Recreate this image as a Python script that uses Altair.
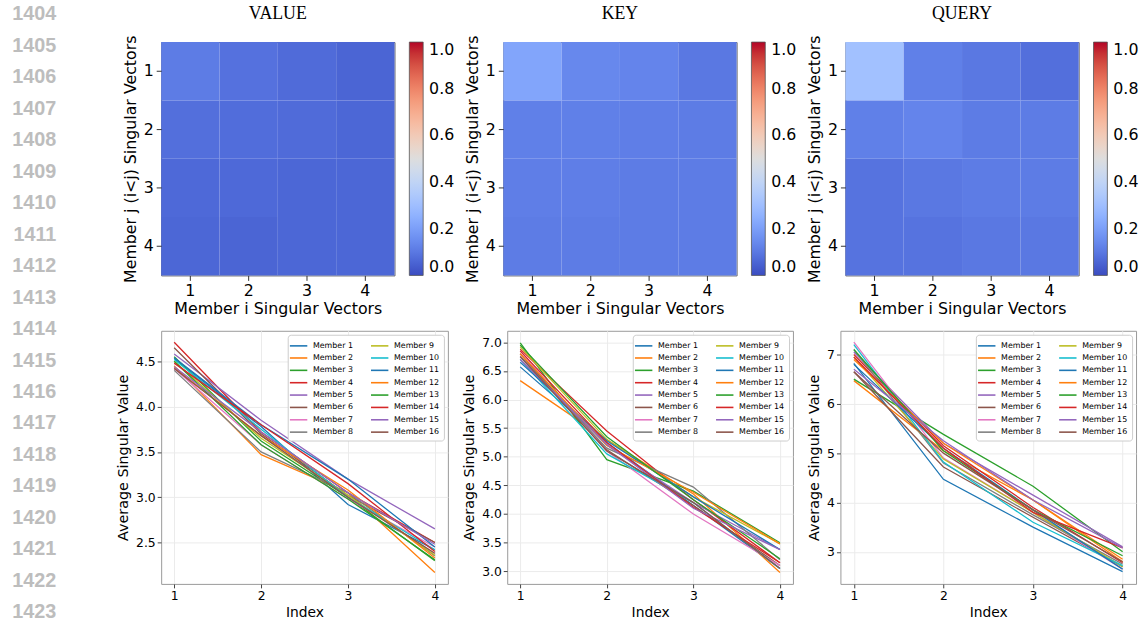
import altair as alt
import pandas as pd

# ---------------- data ----------------
line_numbers = list(range(1404, 1424))

heat_titles = ["VALUE", "KEY", "QUERY"]
vec_index = [1, 2, 3, 4]
# rows = member j vector (1..4), cols = member i vector (1..4)
value_sim = [
    [0.11, 0.085, 0.07, 0.055],
    [0.08, 0.075, 0.07, 0.06],
    [0.065, 0.065, 0.06, 0.06],
    [0.06, 0.055, 0.06, 0.06],
]
key_sim = [
    [0.22, 0.14, 0.13, 0.10],
    [0.12, 0.12, 0.115, 0.11],
    [0.115, 0.115, 0.11, 0.11],
    [0.11, 0.11, 0.11, 0.11],
]
query_sim = [
    [0.31, 0.12, 0.10, 0.08],
    [0.12, 0.13, 0.11, 0.11],
    [0.09, 0.10, 0.11, 0.11],
    [0.09, 0.09, 0.10, 0.10],
]
cbar_ticks = [0.0, 0.2, 0.4, 0.6, 0.8, 1.0]

members = [f"Member {k}" for k in range(1, 17)]
sv_index = [1, 2, 3, 4]
value_sv = [
    [4.53, 3.78, 2.92, 2.42],
    [4.45, 3.47, 3.05, 2.17],
    [4.55, 3.62, 3.00, 2.30],
    [4.71, 3.72, 3.05, 2.50],
    [4.58, 3.85, 3.20, 2.65],
    [4.65, 3.70, 3.02, 2.50],
    [4.42, 3.58, 2.98, 2.45],
    [4.40, 3.50, 3.05, 2.35],
    [4.50, 3.65, 3.02, 2.36],
    [4.52, 3.75, 3.00, 2.42],
    [4.54, 3.80, 3.20, 2.45],
    [4.43, 3.68, 3.08, 2.33],
    [4.50, 3.58, 2.98, 2.31],
    [4.48, 3.80, 3.15, 2.40],
    [4.44, 3.72, 3.05, 2.48],
    [4.42, 3.68, 3.00, 2.38],
]
key_sv = [
    [6.57, 5.25, 4.15, 3.05],
    [6.33, 5.30, 4.35, 2.98],
    [6.99, 4.95, 4.40, 3.50],
    [6.88, 5.45, 4.25, 3.15],
    [6.75, 5.20, 4.20, 3.38],
    [6.80, 5.12, 4.15, 3.10],
    [6.85, 5.10, 4.00, 3.10],
    [6.75, 5.15, 4.47, 3.20],
    [6.92, 5.30, 4.30, 3.48],
    [6.70, 5.05, 4.20, 3.05],
    [6.65, 5.28, 4.30, 3.38],
    [6.80, 5.20, 4.38, 3.48],
    [6.95, 5.35, 4.25, 3.22],
    [6.85, 5.25, 4.12, 3.15],
    [6.70, 5.22, 4.10, 3.38],
    [6.75, 5.10, 4.20, 3.05],
]
query_sv = [
    [6.82, 4.47, 3.50, 2.60],
    [6.47, 5.05, 4.05, 2.85],
    [6.50, 5.38, 4.33, 3.00],
    [7.00, 5.15, 3.90, 2.78],
    [7.05, 5.20, 4.15, 3.10],
    [6.65, 4.72, 3.70, 2.70],
    [7.25, 4.90, 3.80, 2.65],
    [7.10, 4.80, 3.75, 2.75],
    [6.95, 4.88, 3.80, 2.70],
    [7.20, 4.82, 3.60, 2.72],
    [6.80, 5.10, 3.85, 2.65],
    [6.90, 5.20, 4.05, 2.80],
    [7.10, 5.05, 3.85, 2.92],
    [6.95, 5.10, 3.80, 3.08],
    [6.70, 5.25, 4.05, 3.08],
    [6.65, 5.00, 3.85, 2.80],
]
value_yticks = [2.5, 3.0, 3.5, 4.0, 4.5]
key_yticks = [3.0, 3.5, 4.0, 4.5, 5.0, 5.5, 6.0, 6.5, 7.0]
query_yticks = [3, 4, 5, 6, 7]

# ---------------- styles ----------------
TAB10 = ["#1f77b4", "#ff7f0e", "#2ca02c", "#d62728", "#9467bd",
         "#8c564b", "#e377c2", "#7f7f7f", "#bcbd22", "#17becf"]
member_colors = [TAB10[k % 10] for k in range(16)]

COOLWARM = ["#3b4cc0", "#4d68d7", "#6282ea", "#779af7", "#8db0fe", "#a3c2ff",
            "#b8d0f9", "#ccd9ee", "#dddddd", "#ecd3c5", "#f5c4ad", "#f7b194",
            "#f49a7b", "#ec7f63", "#de604d", "#cb3e38", "#b40426"]
cw_domain = [k / (len(COOLWARM) - 1) for k in range(len(COOLWARM))]

FONT = "DejaVu Sans"


def heat(title, sim):
    rows = []
    for j, row in enumerate(sim):
        for i, v in enumerate(row):
            rows.append({"i": vec_index[i], "j": vec_index[j], "v": v})
    df = pd.DataFrame(rows)
    return alt.Chart(
        df,
        title=alt.TitleParams(title, font="Liberation Serif", fontSize=18,
                              fontWeight="normal", offset=12, color="#000"),
    ).mark_rect().encode(
        x=alt.X("i:O", title="Member i Singular Vectors",
                scale=alt.Scale(paddingInner=0, paddingOuter=0),
                axis=alt.Axis(labelAngle=0, labelFontSize=16, titleFontSize=16,
                              tickSize=5, labelPadding=2, titlePadding=3,
                              tickColor="#333")),
        y=alt.Y("j:O", title="Member j (i<j) Singular Vectors",
                scale=alt.Scale(paddingInner=0, paddingOuter=0),
                axis=alt.Axis(labelFontSize=16, titleFontSize=16, tickSize=5,
                              labelPadding=3, titlePadding=5, tickColor="#333")),
        color=alt.Color("v:Q",
                        scale=alt.Scale(domain=cw_domain, range=COOLWARM,
                                        interpolate="rgb"),
                        legend=alt.Legend(title=None, gradientLength=236,
                                          gradientThickness=14,
                                          values=cbar_ticks, format=".1f",
                                          labelFontSize=16, labelOffset=6,
                                          offset=15, labelFont=FONT,
                                          gradientStrokeColor="#555",
                                          gradientStrokeWidth=0.8)),
    ).properties(width=236, height=236,
                 view=alt.ViewBackground(stroke="#666", strokeWidth=1))


def lines(sv, ydomain, yticks, yfmt, width):
    rows = []
    for m, vals in zip(members, sv):
        for x, v in zip(sv_index, vals):
            rows.append({"member": m, "index": x, "value": v})
    df = pd.DataFrame(rows)
    return alt.Chart(df).mark_line(strokeWidth=1.3, clip=True).encode(
        x=alt.X("index:Q", title="Index",
                scale=alt.Scale(domain=[0.85, 4.15], nice=False, zero=False),
                axis=alt.Axis(values=sv_index, format="d", labelFontSize=12.5,
                              titleFontSize=14, tickSize=4, labelPadding=2,
                              titlePadding=3, gridColor="#ebebeb",
                              tickColor="#444")),
        y=alt.Y("value:Q", title="Average Singular Value",
                scale=alt.Scale(domain=ydomain, nice=False, zero=False),
                axis=alt.Axis(values=yticks, format=yfmt, labelFontSize=12.5,
                              titleFontSize=14.5, tickSize=4, labelPadding=2,
                              titlePadding=5, gridColor="#ebebeb",
                              tickColor="#444")),
        color=alt.Color("member:N",
                        scale=alt.Scale(domain=members, range=member_colors),
                        legend=alt.Legend(title=None, orient="top-right",
                                          offset=4, columns=2,
                                          symbolType="M-1.6,0H1.6",
                                          symbolSize=121, symbolStrokeWidth=1.6,
                                          labelFontSize=8, labelFont=FONT,
                                          labelOffset=8, rowPadding=1.5,
                                          columnPadding=14, padding=4.5,
                                          strokeColor="#cccccc",
                                          fillColor="#ffffff",
                                          cornerRadius=3)),
        order=alt.Order("member:N"),
    ).properties(width=width, height=256,
                 view=alt.ViewBackground(stroke="#999", strokeWidth=1))


# line-number gutter (its plot area starts at the top of the heatmap row)
num_df = pd.DataFrame({"n": line_numbers, "label": [str(n) for n in line_numbers]})
numbers = alt.Chart(num_df).mark_text(
    align="right", baseline="middle", fontSize=20, fontWeight="bold",
    color="#bdbdbd", font="Liberation Sans",
).encode(
    y=alt.Y("n:Q", axis=None,
            scale=alt.Scale(domain=[1404.880, 1423.133], reverse=True,
                            nice=False, zero=False)),
    x=alt.value(57),
    text="label:N",
).properties(width=60, height=581,
             view=alt.ViewBackground(stroke="transparent", strokeWidth=0))

row1 = alt.hconcat(
    heat(heat_titles[0], value_sim),
    heat(heat_titles[1], key_sim),
    heat(heat_titles[2], query_sim),
    spacing=8,
).resolve_scale(color="independent")

row2 = alt.hconcat(
    lines(value_sv, [2.043, 4.837], value_yticks, ".1f", 290),
    lines(key_sv, [2.78, 7.20], key_yticks, ".1f", 289),
    lines(query_sv, [2.35, 7.48], query_yticks, "d", 299),
    spacing=12,
).resolve_scale(color="independent")

chart = alt.hconcat(
    numbers,
    alt.vconcat(row1, row2, spacing=12),
    spacing=56,
).properties(
    padding=0,
).configure(
    font=FONT,
).configure_axis(
    labelFont=FONT, titleFont=FONT, titleFontWeight="normal",
    labelColor="#000", titleColor="#000", domain=False,
).configure_view(
    strokeWidth=0,
)

chart.save("out.html", embed_options={"renderer": "svg", "actions": False})
